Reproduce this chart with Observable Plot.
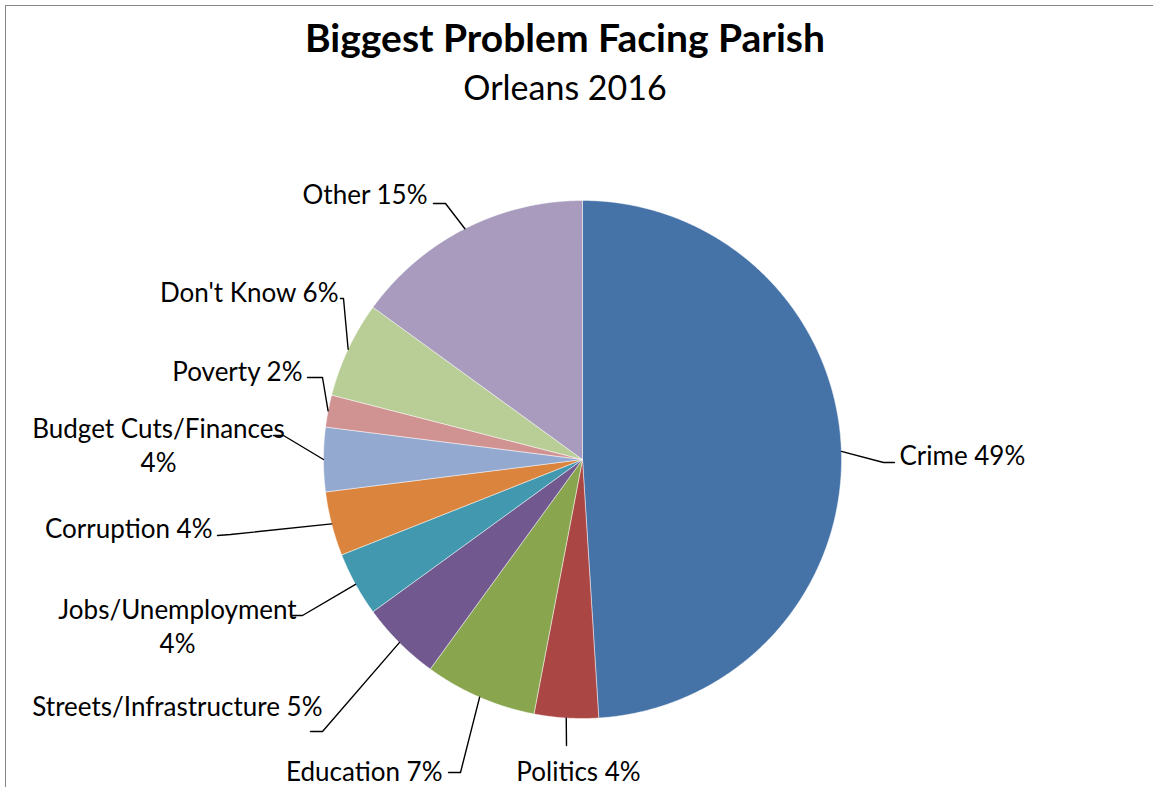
<!DOCTYPE html>
<html><head><meta charset="utf-8">
<script src="https://cdn.jsdelivr.net/npm/d3@7"></script>
<script src="https://cdn.jsdelivr.net/npm/@observablehq/plot@0.6"></script>
<style>
html,body{margin:0;padding:0;background:#fff;overflow:hidden;}
#wrap{position:relative;width:1153px;height:787px;overflow:hidden;font-family:Lato,"Open Sans",sans-serif;}
#frame{position:absolute;left:5px;top:5px;width:1300px;height:1000px;border-left:1px solid #878787;border-top:1px solid #878787;}
#header{position:relative;height:120px;}
#title{position:absolute;left:0;width:1130px;text-align:center;top:18px;font-size:39px;line-height:39px;font-weight:bold;color:#000;}
#subtitle{position:absolute;left:0;width:1130px;text-align:center;top:70px;font-size:34px;line-height:34px;color:#000;}
#chart{position:relative;}
#chart svg{display:block;background:transparent;}
</style></head><body>
<div id="wrap"><div id="frame"></div>
<div id="header"><div id="title">Biggest Problem Facing Parish</div><div id="subtitle">Orleans 2016</div></div>
<div id="chart"></div></div>
<script>
// ---- data ----
const categories = ["Crime","Politics","Education","Streets/Infrastructure","Jobs/Unemployment","Corruption","Budget Cuts/Finances","Poverty","Don't Know","Other"];
const percents = [49,4,7,5,4,4,4,2,6,15];
const labelTexts = ["Crime 49%","Politics 4%","Education 7%","Streets/Infrastructure 5%","Jobs/Unemployment\n4%","Corruption 4%","Budget Cuts/Finances\n4%","Poverty 2%","Don't Know 6%","Other 15%"];
const colors = ["#4572A7","#AA4643","#89A54E","#71588F","#4198AF","#DB843D","#93A9CF","#D19392","#B9CD96","#A99BBD"];

// ---- layout (page pixels) ----
const W = 1153, HEAD = 120, SH = 667, CX = 582, CY = 459, R = 259;
const labelAnchors = ["start","middle","end","end","middle","end","middle","end","end","end"];
const labelPos = [[899,454],[578,770],[442,770],[322,705],[177,625],[212,527],[158,444],[302,370],[338,291],[427,193]];
const leaderPts = [
  [[883,462],[894,462]],
  [[566,745]],
  [[460,772],[448,772]],
  [[322,731],[310,731]],
  [[302,615],[292,615]],
  [[230,534],[217,535]],
  [[283,435],[273,435]],
  [[322,377],[307,377]],
  [[343,298],[340,298]]  ,
  [[445,203],[433,203]]
];

const ux = px => (px - CX) / R;
const uy = py => (CY - py) / R;

const arcs = d3.pie().sort(null).value(d => d)(percents);
const slicePts = [];
arcs.forEach((a, i) => {
  const n = Math.max(8, Math.ceil((a.endAngle - a.startAngle) / 0.004));
  slicePts.push({name: categories[i], color: colors[i], x: 0, y: 0});
  for (let k = 0; k <= n; k++) {
    const t = a.startAngle + (a.endAngle - a.startAngle) * k / n;
    slicePts.push({name: categories[i], color: colors[i], x: Math.sin(t), y: Math.cos(t)});
  }
  slicePts.push({name: categories[i], color: colors[i], x: 0, y: 0});
});

const leaders = [];
arcs.forEach((a, i) => {
  const m = (a.startAngle + a.endAngle) / 2;
  leaders.push({name: categories[i], x: Math.sin(m), y: Math.cos(m)});
  leaderPts[i].forEach(p => leaders.push({name: categories[i], x: ux(p[0]), y: uy(p[1])}));
});

const labels = categories.map((c, i) => ({name: c, text: labelTexts[i], anchor: labelAnchors[i], x: ux(labelPos[i][0]), y: uy(labelPos[i][1])}));

const textOpts = a => ({x: "x", y: "y", text: "text", textAnchor: a, fontSize: 26, lineHeight: 1.31, fill: "#000", fontFamily: "Lato"});

const chart = Plot.plot({
  width: W, height: SH,
  margin: 0,
  x: {domain: [ux(0), ux(W)], range: [0, W], axis: null},
  y: {domain: [uy(HEAD + SH), uy(HEAD)], range: [SH, 0], axis: null},
  style: {fontFamily: "Lato", background: "transparent"},
  marks: [
    Plot.line(slicePts, {x: "x", y: "y", z: "name", fill: "color", stroke: "#ffffff", strokeWidth: 0.6, strokeOpacity: 0.8, curve: "linear"}),
    Plot.line(leaders, {x: "x", y: "y", z: "name", stroke: "#000", strokeWidth: 1.4, curve: "linear"}),
    Plot.text(labels.filter(d => d.anchor === "start"), textOpts("start")),
    Plot.text(labels.filter(d => d.anchor === "middle"), textOpts("middle")),
    Plot.text(labels.filter(d => d.anchor === "end"), textOpts("end"))
  ]
});
document.getElementById("chart").appendChild(chart);
</script>
</body></html>
